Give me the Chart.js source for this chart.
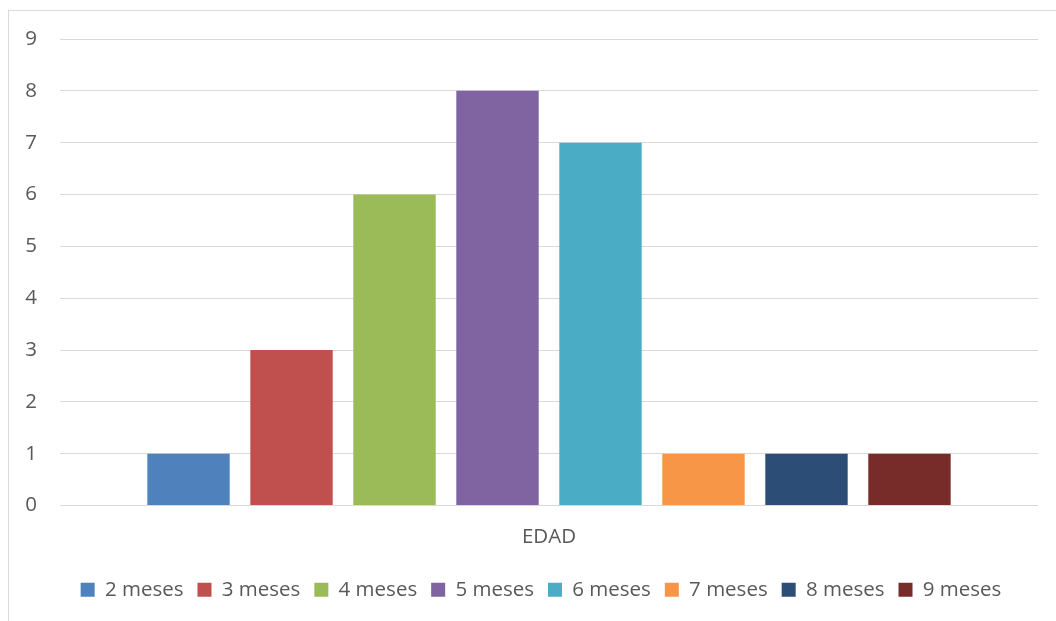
<!DOCTYPE html>
<html>
<head>
<meta charset="utf-8">
<script src="https://cdn.jsdelivr.net/npm/chart.js@4/dist/chart.umd.min.js"></script>
<style>
  html, body { margin: 0; padding: 0; background: #ffffff; overflow: hidden; }
  #frame { position: absolute; left: 8px; top: 10px; width: 1200px; height: 800px; border: 1px solid #d9d9d9; box-sizing: border-box; }
  #wrap { position: absolute; left: 0; top: 0; width: 1056px; height: 621px; }
</style>
</head>
<body>
<div id="frame"></div>
<div id="wrap"><canvas id="c" width="1056" height="621"></canvas></div>
<script>
const categories = ['EDAD'];
const seriesNames = ['2 meses', '3 meses', '4 meses', '5 meses', '6 meses', '7 meses', '8 meses', '9 meses'];
const seriesValues = [1, 3, 6, 8, 7, 1, 1, 1];
const seriesColors = ['#4F81BD', '#C0504D', '#9BBB59', '#8064A2', '#4BACC6', '#F79646', '#2C4D75', '#772C2A'];
const yTicks = [0, 1, 2, 3, 4, 5, 6, 7, 8, 9];

const FONT = "'Open Sans', 'Noto Sans', sans-serif";
const TEXT = '#595959';

const datasets = seriesNames.map((name, i) => ({
  label: name,
  data: [seriesValues[i]],
  backgroundColor: seriesColors[i],
  borderWidth: 0,
  barPercentage: 0.8,
  categoryPercentage: 0.8425
}));

const shiftLegend = {
  id: 'shiftLegend',
  afterLayout(chart) {
    if (chart.legend) { chart.legend.left += 44; }
  }
};

new Chart(document.getElementById('c'), {
  type: 'bar',
  data: { labels: categories, datasets },
  plugins: [shiftLegend],
  options: {
    responsive: false,
    animation: false,
    devicePixelRatio: 1,
    layout: { padding: { left: 0, right: 18, top: 39, bottom: 11 } },
    plugins: {
      tooltip: { enabled: false },
      legend: {
        position: 'bottom',
        labels: {
          boxWidth: 14,
          boxHeight: 14,
          padding: 14,
          color: TEXT,
          font: { family: FONT, size: 20.5 }
        }
      }
    },
    scales: {
      x: {
        afterFit: (s) => { s.height = 60; },
        grid: { display: false, drawTicks: false },
        border: { display: false },
        ticks: { color: TEXT, padding: 19, font: { family: FONT, size: 20.5 } }
      },
      y: {
        min: yTicks[0],
        max: yTicks[yTicks.length - 1],
        afterBuildTicks: (s) => { s.ticks = yTicks.map(v => ({ value: v })); },
        afterFit: (s) => { s.width = 60; },
        grid: { color: '#d9d9d9', lineWidth: 1, drawTicks: false },
        border: { display: false },
        ticks: { color: TEXT, padding: 23, font: { family: FONT, size: 20.5 } }
      }
    }
  }
});
</script>
</body>
</html>
